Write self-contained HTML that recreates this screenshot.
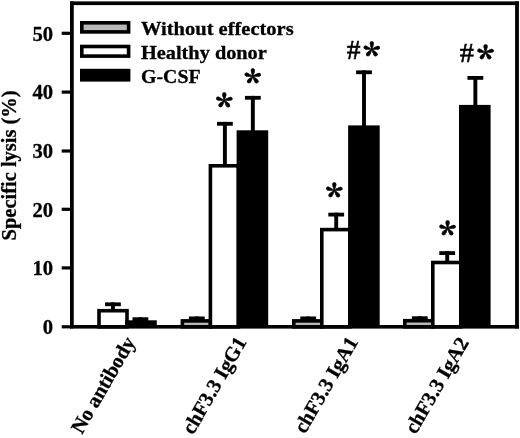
<!DOCTYPE html>
<html><head><meta charset="utf-8"><title>Specific lysis chart</title>
<style>html,body{margin:0;padding:0;background:#fff}svg{display:block}text{font-family:"Liberation Serif",serif;font-weight:bold;font-size:20px;fill:#000;stroke:#000;stroke-width:0.3px}.star{font-family:"Noto Serif CJK SC","Liberation Serif",serif;font-weight:900;font-size:34px;stroke-width:0.5px}.hash{font-weight:normal;font-size:27.5px;stroke:#000;stroke-width:0.6px}</style></head><body>
<svg width="520" height="438" viewBox="0 0 520 438">
<rect width="520" height="438" fill="#fff"/>
<rect x="111.00" y="302.4" width="3.9" height="8.3" fill="#000"/>
<rect x="105.05" y="302.4" width="15.8" height="3.8" fill="#000"/>
<rect x="99.0" y="310.7" width="28" height="16.1" fill="#fff" stroke="#000" stroke-width="3.6"/>
<rect x="138.45" y="317.3" width="3.9" height="4.0" fill="#000"/>
<rect x="132.50" y="317.3" width="15.8" height="3.8" fill="#000"/>
<rect x="125.2" y="320.3" width="31.6" height="6.5" fill="#000"/>
<rect x="194.85" y="316.5" width="3.9" height="4.4" fill="#000"/>
<rect x="188.90" y="316.5" width="15.8" height="3.8" fill="#000"/>
<rect x="182.4" y="320.9" width="28" height="5.9" fill="#b8b8b8" stroke="#000" stroke-width="3.6"/>
<rect x="222.95" y="121.9" width="3.9" height="43.9" fill="#000"/>
<rect x="217.00" y="121.9" width="15.8" height="3.8" fill="#000"/>
<rect x="210.4" y="165.8" width="28" height="161.0" fill="#fff" stroke="#000" stroke-width="3.6"/>
<rect x="250.90" y="95.9" width="3.9" height="35.4" fill="#000"/>
<rect x="244.95" y="95.9" width="15.8" height="3.8" fill="#000"/>
<rect x="236.6" y="130.3" width="31.6" height="196.5" fill="#000"/>
<rect x="306.25" y="316.5" width="3.9" height="4.4" fill="#000"/>
<rect x="300.30" y="316.5" width="15.8" height="3.8" fill="#000"/>
<rect x="293.8" y="320.9" width="28" height="5.9" fill="#b8b8b8" stroke="#000" stroke-width="3.6"/>
<rect x="334.25" y="212.7" width="3.9" height="16.9" fill="#000"/>
<rect x="328.30" y="212.7" width="15.8" height="3.8" fill="#000"/>
<rect x="321.8" y="229.6" width="28" height="97.2" fill="#fff" stroke="#000" stroke-width="3.6"/>
<rect x="362.05" y="70.4" width="3.9" height="56.0" fill="#000"/>
<rect x="356.10" y="70.4" width="15.8" height="3.8" fill="#000"/>
<rect x="348.1" y="125.4" width="31.6" height="201.4" fill="#000"/>
<rect x="417.80" y="316.3" width="3.9" height="4.4" fill="#000"/>
<rect x="411.85" y="316.3" width="15.8" height="3.8" fill="#000"/>
<rect x="404.8" y="320.7" width="28" height="6.1" fill="#b8b8b8" stroke="#000" stroke-width="3.6"/>
<rect x="445.25" y="251.2" width="3.9" height="11.3" fill="#000"/>
<rect x="439.30" y="251.2" width="15.8" height="3.8" fill="#000"/>
<rect x="432.8" y="262.5" width="28" height="64.3" fill="#fff" stroke="#000" stroke-width="3.6"/>
<rect x="473.40" y="76.0" width="3.9" height="29.9" fill="#000"/>
<rect x="467.45" y="76.0" width="15.8" height="3.8" fill="#000"/>
<rect x="459.0" y="104.9" width="31.6" height="221.9" fill="#000"/>
<rect x="70" y="1.4" width="448.9" height="3.7" fill="#000"/><rect x="70" y="325" width="448.9" height="3.6" fill="#000"/><rect x="70" y="1.4" width="3.75" height="327" fill="#000"/><rect x="515.1" y="1.4" width="3.8" height="327" fill="#000"/>
<rect x="61.7" y="325.2" width="9" height="3.2" fill="#000"/>
<text x="53" y="334.1" text-anchor="end" style="font-size:20.6px">0</text>
<rect x="61.7" y="266.3" width="9" height="3.2" fill="#000"/>
<text x="53" y="275.2" text-anchor="end" style="font-size:20.6px">10</text>
<rect x="61.7" y="207.7" width="9" height="3.2" fill="#000"/>
<text x="53" y="216.6" text-anchor="end" style="font-size:20.6px">20</text>
<rect x="61.7" y="149.4" width="9" height="3.2" fill="#000"/>
<text x="53" y="158.3" text-anchor="end" style="font-size:20.6px">30</text>
<rect x="61.7" y="90.5" width="9" height="3.2" fill="#000"/>
<text x="53" y="99.4" text-anchor="end" style="font-size:20.6px">40</text>
<rect x="61.7" y="31.7" width="9" height="3.2" fill="#000"/>
<text x="53" y="40.6" text-anchor="end" style="font-size:20.6px">50</text>
<text transform="translate(15.7 165.4) rotate(-90)" text-anchor="middle" textLength="150" lengthAdjust="spacingAndGlyphs">Specific lysis (%)</text>
<rect x="81.8" y="22.8" width="46.8" height="9.1" fill="#b8b8b8" stroke="#000" stroke-width="3.6"/>
<text x="141" y="34.5" textLength="152.6" lengthAdjust="spacingAndGlyphs" style="font-size:19.5px">Without effectors</text>
<rect x="81.8" y="46.5" width="46.8" height="9.6" fill="#fff" stroke="#000" stroke-width="3.6"/>
<text x="141" y="58.7" textLength="125.8" lengthAdjust="spacingAndGlyphs" style="font-size:19.5px">Healthy donor</text>
<rect x="81.8" y="70.6" width="46.8" height="9.2" fill="#000" stroke="#000" stroke-width="3.6"/>
<text x="141" y="82.6" textLength="59.6" lengthAdjust="spacingAndGlyphs" style="font-size:19.5px">G-CSF</text>
<text transform="translate(135.8 341.8) rotate(-60)" text-anchor="end" style="font-size:20.5px">No antibody</text>
<text transform="translate(247.2 341.8) rotate(-60)" text-anchor="end" style="font-size:20.5px">chF3.3 IgG1</text>
<text transform="translate(358.6 341.8) rotate(-60)" text-anchor="end" style="font-size:20.5px">chF3.3 IgA1</text>
<text transform="translate(469.3 342.3) rotate(-60)" text-anchor="end" style="font-size:20.5px">chF3.3 IgA2</text>
<text transform="translate(224.3 100.4) scale(1.03 0.96)" x="-8.33" y="20.74" class="star">*</text>
<text transform="translate(252.7 76.4) scale(1.03 0.96)" x="-8.33" y="20.74" class="star">*</text>
<text transform="translate(334.4 189.9) scale(1.03 0.96)" x="-8.33" y="20.74" class="star">*</text>
<text transform="translate(447.5 227.7) scale(1.03 0.96)" x="-8.33" y="20.74" class="star">*</text>
<text x="346.7" y="58.9" class="hash" style="font-size:27.5px">#</text>
<text transform="translate(371.8 49.2) scale(1.03 0.96)" x="-8.33" y="20.74" class="star">*</text>
<text x="459.7" y="62.3" class="hash" style="font-size:28.3px">#</text>
<text transform="translate(485.6 52.4) scale(1.03 0.96)" x="-8.33" y="20.74" class="star">*</text>
</svg></body></html>
